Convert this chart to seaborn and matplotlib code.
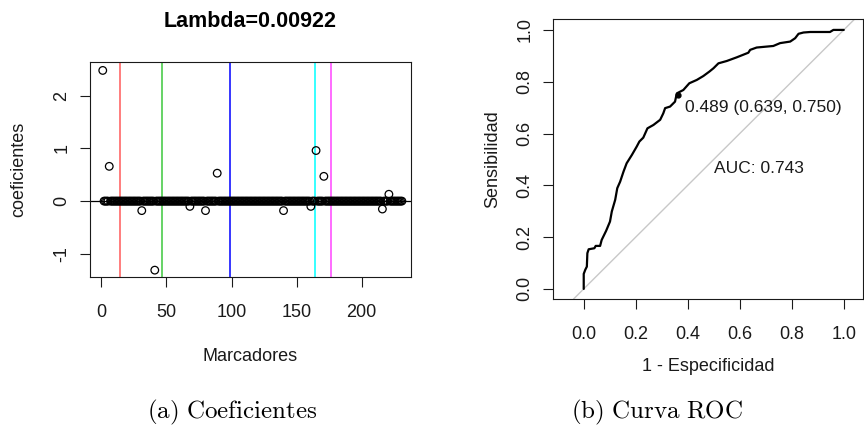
import numpy as np
import pandas as pd
import matplotlib
matplotlib.use("Agg")
import matplotlib.pyplot as plt
import seaborn as sns

# ---------------- data ----------------
n_markers = 231
nonzero_idx = [1, 6, 31, 41, 68, 80, 89, 140, 161, 165, 171, 216, 221]
nonzero_val = [2.48, 0.66, -0.18, -1.31, -0.10, -0.18, 0.53, -0.18, -0.10, 0.96, 0.47, -0.15, 0.13]
lambda_label = "Lambda=0.00922"
vline_pos = [14.5, 46.5, 98.5, 164.5, 176.5]
vline_colors = ["#FF5A5A", "#3CC83C", "#0000FF", "#00FFFF", "#FF44FF"]

fpr = [0.0, 0.0, 0.006, 0.012, 0.014, 0.019, 0.041, 0.046, 0.063, 0.069, 0.086, 0.101,
       0.108, 0.121, 0.129, 0.140, 0.153, 0.165, 0.185, 0.204, 0.214, 0.229, 0.245,
       0.268, 0.294, 0.306, 0.313, 0.332, 0.351, 0.358, 0.383, 0.406, 0.435, 0.460,
       0.483, 0.499, 0.518, 0.550, 0.588, 0.633, 0.640, 0.665, 0.729, 0.755, 0.794,
       0.813, 0.826, 0.845, 0.871, 0.947, 0.960, 1.0]
tpr = [0.0, 0.058, 0.074, 0.086, 0.138, 0.153, 0.157, 0.166, 0.166, 0.189, 0.224, 0.260,
       0.299, 0.344, 0.389, 0.414, 0.453, 0.485, 0.517, 0.550, 0.569, 0.584, 0.620,
       0.633, 0.653, 0.678, 0.698, 0.704, 0.723, 0.755, 0.768, 0.794, 0.807, 0.822,
       0.839, 0.852, 0.871, 0.880, 0.894, 0.912, 0.923, 0.932, 0.938, 0.949, 0.955,
       0.968, 0.985, 0.990, 0.992, 0.992, 1.0, 1.0]
thr_point = (0.361, 0.750)
thr_label = "0.489 (0.639, 0.750)"
auc_label = "AUC: 0.743"
x_ticks_roc = [0.0, 0.2, 0.4, 0.6, 0.8, 1.0]
y_ticks_roc = [0.0, 0.2, 0.4, 0.6, 0.8, 1.0]
x_ticks_coef = [0, 50, 100, 150, 200]
y_ticks_coef = [-1, 0, 1, 2]

# ---------------- style ----------------
sns.set_style("ticks")
plt.rcParams["font.family"] = ["Liberation Sans", "DejaVu Sans"]
plt.rcParams["mathtext.fontset"] = "cm"
plt.rcParams["text.color"] = "black"
plt.rcParams["axes.labelcolor"] = "#1a1a1a"
plt.rcParams["axes.linewidth"] = 0.8
plt.rcParams["xtick.major.width"] = 0.8
plt.rcParams["ytick.major.width"] = 0.8
plt.rcParams["xtick.major.size"] = 7.2
plt.rcParams["ytick.major.size"] = 7.2
plt.rcParams["xtick.color"] = "#1a1a1a"
plt.rcParams["ytick.color"] = "#1a1a1a"
plt.rcParams["xtick.labelcolor"] = "#1a1a1a"
plt.rcParams["ytick.labelcolor"] = "#1a1a1a"

coef = np.zeros(n_markers)
coef[np.array(nonzero_idx) - 1] = nonzero_val
df_coef = pd.DataFrame({"idx": np.arange(1, n_markers + 1), "coef": coef})
df_roc = pd.DataFrame({"fpr": fpr, "tpr": tpr})

fig = plt.figure(figsize=(8.64, 4.32), dpi=100)
ax1 = fig.add_axes([90 / 864, 1 - 277 / 432, (411 - 90) / 864, (277 - 62) / 432])
ax2 = fig.add_axes([553.3 / 864, 1 - 299 / 432, (862.5 - 553.3) / 864, (299 - 19.3) / 432])

# ---------------- left: coefficients ----------------
ax1.axhline(0, color="black", lw=0.9, zorder=1)
for xv, c in zip(vline_pos, vline_colors):
    ax1.axvline(xv, color=c, lw=1.1, zorder=1)
sns.scatterplot(data=df_coef, x="idx", y="coef", ax=ax1, marker="o", s=30,
                facecolor="none", edgecolor="black", linewidth=0.9, zorder=3)
ax1.set_xlim(-8.8, 238)
ax1.set_ylim(-1.44, 2.64)
ax1.set_xticks(x_ticks_coef)
ax1.set_yticks(y_ticks_coef)
ax1.set_xticklabels([str(v) for v in x_ticks_coef], fontsize=13)
ax1.set_yticklabels([str(v) for v in y_ticks_coef], fontsize=13, rotation=90, va="center")
ax1.tick_params(axis="x", pad=12)
ax1.tick_params(axis="y", pad=7)
ax1.set_title(lambda_label, fontsize=15.5, fontweight="bold", pad=25.5, color="black")
ax1.set_xlabel("Marcadores", fontsize=13)
ax1.set_ylabel("coeficientes", fontsize=13)
ax1.xaxis.set_label_coords(0.5, -0.328)
ax1.yaxis.set_label_coords(-0.196, 0.5)
for sp in ax1.spines.values():
    sp.set_visible(True)
    sp.set_color("#1a1a1a")

# ---------------- right: ROC ----------------
ax2.axline((0, 0), (1, 1), color="#C8C8C8", lw=1.0, zorder=1)
sns.lineplot(data=df_roc, x="fpr", y="tpr", ax=ax2, sort=False, estimator=None,
             color="black", lw=1.6, zorder=3)
ax2.plot([thr_point[0]], [thr_point[1]], "o", color="black", ms=3.5, zorder=4)
ax2.text(0.39, 0.70, thr_label, fontsize=12.5, color="#1a1a1a", ha="left", va="center")
ax2.text(0.5, 0.466, auc_label, fontsize=12.5, color="#1a1a1a", ha="left", va="center")
ax2.set_xlim(-0.117, 1.072)
ax2.set_ylim(-0.039, 1.041)
ax2.set_xticks(x_ticks_roc)
ax2.set_yticks(y_ticks_roc)
ax2.set_xticklabels([f"{v:.1f}" for v in x_ticks_roc], fontsize=13)
ax2.set_yticklabels([f"{v:.1f}" for v in y_ticks_roc], fontsize=13, rotation=90, va="center")
ax2.tick_params(axis="x", pad=12)
ax2.tick_params(axis="y", pad=7)
ax2.set_xlabel("1 - Especificidad", fontsize=13)
ax2.set_ylabel("Sensibilidad", fontsize=13)
ax2.xaxis.set_label_coords(0.5, -0.211)
ax2.yaxis.set_label_coords(-0.170, 0.5)
for sp in ax2.spines.values():
    sp.set_visible(True)
    sp.set_color("#1a1a1a")

# ---------------- captions ----------------
fig.text(232 / 864, 1 - 412 / 432, r"$\mathrm{(a)\ Coeficientes}$", fontsize=18,
         ha="center", va="center")
fig.text(657 / 864, 1 - 412 / 432, r"$\mathrm{(b)\ Curva\ ROC}$", fontsize=18,
         ha="center", va="center")

fig.savefig("out.png", dpi=100)
